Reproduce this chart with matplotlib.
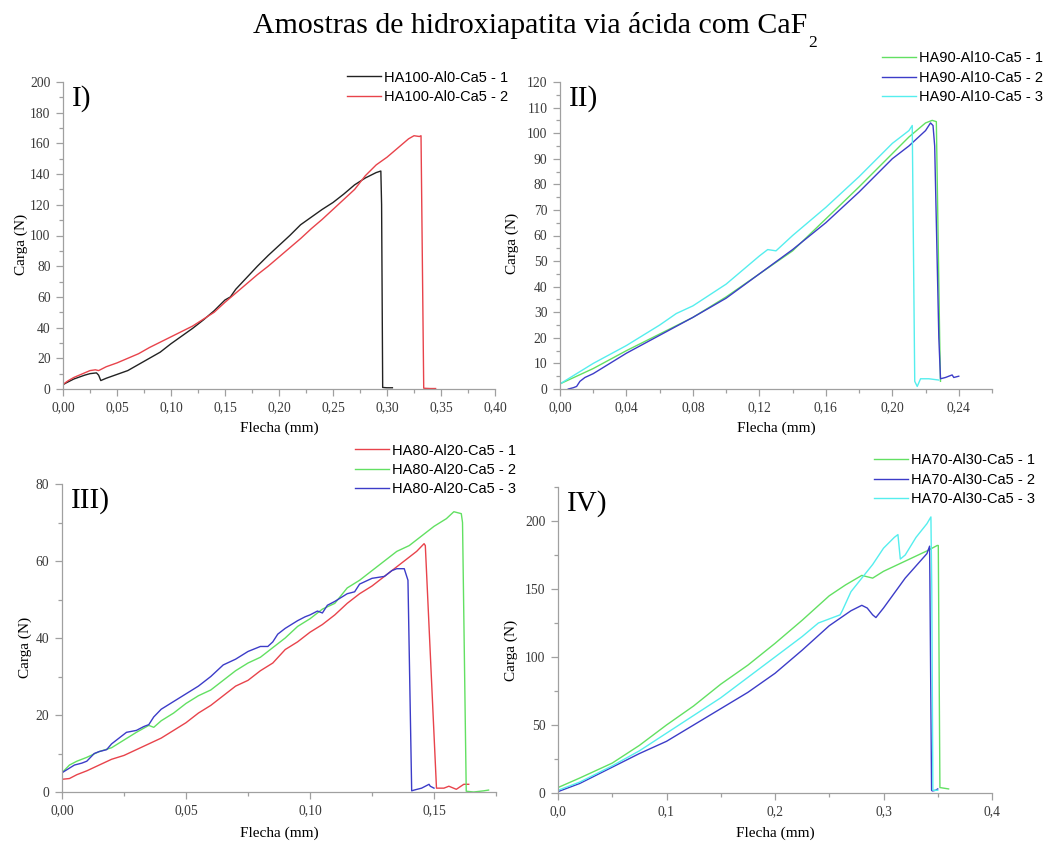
import matplotlib
matplotlib.use("Agg")
import matplotlib.pyplot as plt
from matplotlib.ticker import MultipleLocator, FixedLocator, FixedFormatter

# ---------------- data ----------------
# Panel I
p1_labels = ["HA100-Al0-Ca5 - 1", "HA100-Al0-Ca5 - 2"]
p1_x1 = [0.000, 0.003, 0.010, 0.020, 0.025, 0.031, 0.033, 0.035, 0.040, 0.050, 0.060, 0.070, 0.080,
         0.090, 0.100, 0.110, 0.120, 0.130, 0.140, 0.150, 0.155, 0.160, 0.170, 0.180, 0.190, 0.200,
         0.210, 0.220, 0.230, 0.240, 0.250, 0.260, 0.270, 0.280, 0.290, 0.2943, 0.2950, 0.2960, 0.300, 0.305]
p1_y1 = [2.8, 4.0, 6.5, 9.0, 10.0, 10.5, 9.0, 5.5, 7.0, 9.5, 12.0, 16.0, 20.0,
         24.0, 29.5, 34.5, 39.5, 45.0, 51.0, 58.0, 60.0, 65.0, 72.5, 80.0, 87.0, 93.5,
         100.0, 107.0, 112.0, 117.0, 121.5, 127.0, 133.0, 137.5, 141.0, 142.0, 120.0, 1.0, 0.8, 0.8]
p1_x2 = [0.000, 0.005, 0.010, 0.020, 0.025, 0.030, 0.033, 0.040, 0.050, 0.060, 0.070, 0.080, 0.090,
         0.100, 0.110, 0.120, 0.130, 0.140, 0.150, 0.160, 0.170, 0.180, 0.190, 0.200, 0.210, 0.220,
         0.230, 0.240, 0.250, 0.260, 0.270, 0.280, 0.290, 0.300, 0.310, 0.320, 0.325, 0.330, 0.3315,
         0.3340, 0.340, 0.345]
p1_y2 = [3.0, 5.5, 7.5, 10.5, 12.0, 12.5, 12.0, 14.5, 17.0, 20.0, 23.0, 27.0, 30.5,
         34.0, 37.5, 41.0, 45.5, 50.0, 56.5, 62.5, 68.5, 74.5, 80.0, 86.0, 92.0, 98.0,
         104.5, 110.5, 117.0, 123.5, 130.0, 139.0, 146.0, 151.0, 157.0, 163.0, 165.0, 164.5, 165.0,
         0.5, 0.3, 0.3]

# Panel II
p2_labels = ["HA90-Al10-Ca5 - 1", "HA90-Al10-Ca5 - 2", "HA90-Al10-Ca5 - 3"]
p2_x1 = [0.000, 0.020, 0.040, 0.060, 0.080, 0.100, 0.120, 0.140, 0.160, 0.180, 0.200, 0.210,
         0.220, 0.224, 0.2265, 0.2285, 0.2290]
p2_y1 = [2.0, 8.0, 15.0, 21.5, 28.0, 36.0, 45.0, 54.0, 66.5, 79.0, 92.0, 98.5,
         104.0, 105.0, 104.5, 20.0, 3.0]
p2_x2 = [0.005, 0.008, 0.010, 0.012, 0.015, 0.020, 0.030, 0.040, 0.060, 0.080, 0.100, 0.120, 0.140,
         0.160, 0.180, 0.200, 0.210, 0.220, 0.223, 0.2245, 0.2255, 0.2280, 0.2290, 0.232, 0.236,
         0.237, 0.240]
p2_y2 = [0.0, 0.5, 1.0, 3.0, 4.5, 6.0, 10.0, 14.0, 21.0, 28.0, 35.5, 45.0, 54.5,
         65.0, 77.0, 90.0, 95.0, 101.0, 104.0, 103.0, 95.0, 20.0, 4.0, 4.5, 5.5,
         4.5, 5.0]
p2_x3 = [0.000, 0.020, 0.040, 0.060, 0.070, 0.080, 0.100, 0.110, 0.120, 0.125, 0.130, 0.140, 0.160,
         0.180, 0.200, 0.210, 0.212, 0.2135, 0.2150, 0.2170, 0.222, 0.228]
p2_y3 = [2.0, 10.0, 17.0, 25.0, 29.5, 32.5, 41.0, 46.5, 52.0, 54.5, 54.0, 60.0, 71.0,
         83.0, 96.0, 101.0, 103.0, 3.0, 1.0, 4.0, 4.0, 3.5]

# Panel III
p3_labels = ["HA80-Al20-Ca5 - 1", "HA80-Al20-Ca5 - 2", "HA80-Al20-Ca5 - 3"]
p3_x1 = [0.000, 0.003, 0.006, 0.010, 0.015, 0.020, 0.025, 0.030, 0.035, 0.040, 0.045, 0.050, 0.055,
         0.060, 0.065, 0.070, 0.075, 0.080, 0.085, 0.090, 0.095, 0.100, 0.105, 0.110, 0.115, 0.120,
         0.125, 0.130, 0.135, 0.140, 0.143, 0.146, 0.1465, 0.151, 0.154, 0.156, 0.159, 0.162, 0.164]
p3_y1 = [3.3, 3.5, 4.5, 5.5, 7.0, 8.5, 9.5, 11.0, 12.5, 14.0, 16.0, 18.0, 20.5,
         22.5, 25.0, 27.5, 29.0, 31.5, 33.5, 37.0, 39.0, 41.5, 43.5, 46.0, 49.0, 51.5,
         53.5, 56.0, 58.5, 61.0, 62.5, 64.5, 64.0, 1.0, 1.0, 1.5, 0.7, 2.0, 2.0]
p3_x2 = [0.000, 0.003, 0.006, 0.010, 0.015, 0.020, 0.025, 0.030, 0.035, 0.037, 0.040, 0.045, 0.050,
         0.055, 0.060, 0.065, 0.070, 0.075, 0.080, 0.085, 0.090, 0.095, 0.100, 0.105, 0.110, 0.115,
         0.120, 0.125, 0.130, 0.135, 0.140, 0.145, 0.150, 0.155, 0.158, 0.161, 0.1615, 0.163, 0.166,
         0.170, 0.172]
p3_y2 = [5.0, 7.0, 8.0, 9.0, 10.5, 11.5, 13.5, 15.5, 17.3, 16.8, 18.5, 20.5, 23.0,
         25.0, 26.5, 29.0, 31.5, 33.5, 35.0, 37.5, 40.0, 43.0, 45.0, 47.5, 49.0, 53.0,
         55.0, 57.5, 60.0, 62.5, 64.0, 66.5, 69.0, 71.0, 72.8, 72.3, 70.0, 0.2, 0.0,
         0.3, 0.5]
p3_x3 = [0.000, 0.005, 0.008, 0.010, 0.013, 0.015, 0.018, 0.020, 0.023, 0.026, 0.030, 0.033, 0.035,
         0.037, 0.040, 0.045, 0.050, 0.055, 0.060, 0.065, 0.070, 0.075, 0.080, 0.083, 0.085, 0.087,
         0.090, 0.095, 0.098, 0.100, 0.103, 0.105, 0.107, 0.110, 0.115, 0.118, 0.120, 0.125, 0.130,
         0.133, 0.135, 0.138, 0.1395, 0.1410, 0.142, 0.145, 0.148, 0.1485, 0.150]
p3_y3 = [5.0, 7.0, 7.5, 8.0, 10.0, 10.5, 11.0, 12.5, 14.0, 15.5, 16.0, 17.0, 17.5,
         19.5, 21.5, 23.5, 25.5, 27.5, 30.0, 33.0, 34.5, 36.5, 37.8, 37.8, 39.0, 41.0,
         42.5, 44.5, 45.5, 46.0, 47.0, 46.5, 48.5, 49.5, 51.5, 52.0, 54.0, 55.5, 56.0,
         57.5, 58.0, 58.0, 55.0, 0.3, 0.5, 1.0, 2.0, 1.5, 1.0]

# Panel IV
p4_labels = ["HA70-Al30-Ca5 - 1", "HA70-Al30-Ca5 - 2", "HA70-Al30-Ca5 - 3"]
p4_x1 = [0.000, 0.020, 0.050, 0.075, 0.100, 0.125, 0.150, 0.175, 0.200, 0.225, 0.250, 0.265, 0.280,
         0.290, 0.300, 0.320, 0.340, 0.3495, 0.3505, 0.3520, 0.360]
p4_y1 = [4.0, 11.0, 22.0, 35.0, 50.0, 64.0, 80.0, 94.0, 110.0, 127.0, 145.0, 153.0, 160.0,
         158.0, 163.0, 170.5, 178.0, 182.0, 182.0, 4.0, 3.0]
p4_x2 = [0.000, 0.020, 0.050, 0.075, 0.100, 0.125, 0.150, 0.175, 0.200, 0.225, 0.250, 0.270, 0.280,
         0.285, 0.290, 0.293, 0.300, 0.320, 0.340, 0.3425, 0.3443, 0.345, 0.348, 0.350]
p4_y2 = [1.0, 7.0, 19.0, 29.0, 38.0, 50.0, 62.0, 74.0, 88.0, 105.0, 123.0, 134.0, 138.0,
         136.0, 131.0, 129.0, 136.0, 158.0, 176.0, 181.5, 2.0, 1.5, 2.0, 3.0]
p4_x3 = [0.000, 0.020, 0.050, 0.075, 0.100, 0.125, 0.150, 0.175, 0.200, 0.225, 0.240, 0.260, 0.262,
         0.270, 0.280, 0.290, 0.300, 0.310, 0.3133, 0.3155, 0.320, 0.330, 0.340, 0.3437, 0.3445,
         0.3455, 0.350]
p4_y3 = [2.0, 8.0, 20.0, 31.0, 44.0, 57.0, 70.0, 85.0, 100.0, 115.0, 125.0, 131.0, 134.0,
         148.0, 158.0, 168.0, 180.0, 188.0, 190.0, 172.0, 175.0, 188.0, 198.0, 203.0, 150.0,
         2.0, 2.0]

title_main = "Amostras de hidroxiapatita via ácida com CaF"
title_sub = "2"
panel_tags = ["I)", "II)", "III)", "IV)"]
xlabel_txt = "Flecha (mm)"
ylabel_txt = "Carga (N)"

# ---------------- styling ----------------
W, H = 1054, 841
plt.rcParams["font.family"] = ["Liberation Serif", "DejaVu Serif"]

C_BLACK = "#222222"
C_RED = "#e8434b"
C_GREEN = "#62e062"
C_BLUE = "#3c3cc8"
C_CYAN = "#55eeee"
AX_GREY = "#a0a0a0"

fig = plt.figure(figsize=(W / 100, H / 100), dpi=100)


def px_axes(left, top, right, bottom):
    return fig.add_axes([left / W, 1 - bottom / H, (right - left) / W, (bottom - top) / H])


def fmt(v, nd):
    return f"{v:.{nd}f}".replace(".", ",")


def style_axis(ax, xlim, ylim, xmaj, xmin, ymaj, ymin, xnd):
    ax.set_xlim(*xlim)
    ax.set_ylim(*ylim)
    for s in ("top", "right"):
        ax.spines[s].set_visible(False)
    for s in ("left", "bottom"):
        ax.spines[s].set_color(AX_GREY)
        ax.spines[s].set_linewidth(0.9)
    ax.xaxis.set_major_locator(FixedLocator(xmaj))
    ax.xaxis.set_major_formatter(FixedFormatter([fmt(v, xnd) for v in xmaj]))
    ax.xaxis.set_minor_locator(MultipleLocator(xmin))
    ax.yaxis.set_major_locator(FixedLocator(ymaj))
    ax.yaxis.set_major_formatter(FixedFormatter([f"{int(v)}" for v in ymaj]))
    ax.yaxis.set_minor_locator(MultipleLocator(ymin))
    ax.tick_params(which="both", direction="out", color=AX_GREY, width=0.9,
                   labelcolor="#3a3a3a", labelsize=9.8)
    ax.tick_params(which="major", length=5, pad=4)
    ax.tick_params(which="minor", length=3)
    ax.patch.set_alpha(0)


def add_legend(ax, hx, row1_center):
    ax.legend(loc="upper left", bbox_to_anchor=(hx / W, 1 - (row1_center - 5.5) / H),
              bbox_transform=fig.transFigure, frameon=False,
              prop={"family": "Liberation Sans", "size": 10.5},
              handlelength=2.3, handletextpad=0.25, labelspacing=0.36,
              borderpad=0, borderaxespad=0)


def add_labels(ax, tag, ylab_xy, xlab_xy):
    ax.text(0.02, 0.945, tag, transform=ax.transAxes, fontsize=21, va="center", ha="left")
    ax.set_ylabel(ylabel_txt, fontsize=11, va="center")
    ax.yaxis.set_label_coords(*ylab_xy)
    ax.set_xlabel(xlabel_txt, fontsize=11, va="center")
    ax.xaxis.set_label_coords(*xlab_xy)


lw = 1.0

# Panel I
ax1 = px_axes(63, 82, 495, 389)
ax1.plot(p1_x1, p1_y1, color=C_BLACK, lw=lw, label=p1_labels[0])
ax1.plot(p1_x2, p1_y2, color=C_RED, lw=lw, label=p1_labels[1])
style_axis(ax1, (0, 0.40), (0, 200), [i * 0.05 for i in range(9)], 0.025,
           list(range(0, 201, 20)), 10, 2)
add_labels(ax1, panel_tags[0], (-0.097, 0.47), (0.5, -0.127))
add_legend(ax1, 347, 76)

# Panel II
ax2 = px_axes(560, 82, 992, 389)
ax2.plot(p2_x1, p2_y1, color=C_GREEN, lw=lw, label=p2_labels[0])
ax2.plot(p2_x2, p2_y2, color=C_BLUE, lw=lw, label=p2_labels[1])
ax2.plot(p2_x3, p2_y3, color=C_CYAN, lw=lw, label=p2_labels[2])
style_axis(ax2, (0, 0.26), (0, 120), [i * 0.04 for i in range(7)], 0.02,
           list(range(0, 121, 10)), 5, 2)
add_labels(ax2, panel_tags[1], (-0.11, 0.474), (0.5, -0.127))
add_legend(ax2, 882, 57)

# Panel III
ax3 = px_axes(62, 484, 496, 792)
ax3.plot(p3_x1, p3_y1, color=C_RED, lw=lw, label=p3_labels[0])
ax3.plot(p3_x2, p3_y2, color=C_GREEN, lw=lw, label=p3_labels[1])
ax3.plot(p3_x3, p3_y3, color=C_BLUE, lw=lw, label=p3_labels[2])
style_axis(ax3, (0, 0.175), (0, 80), [0.0, 0.05, 0.10, 0.15], 0.025,
           list(range(0, 81, 20)), 10, 2)
add_labels(ax3, panel_tags[2], (-0.085, 0.468), (0.5, -0.133))
add_legend(ax3, 355, 449)

# Panel IV
ax4 = px_axes(558, 487, 992, 793)
ax4.plot(p4_x1, p4_y1, color=C_GREEN, lw=lw, label=p4_labels[0])
ax4.plot(p4_x2, p4_y2, color=C_BLUE, lw=lw, label=p4_labels[1])
ax4.plot(p4_x3, p4_y3, color=C_CYAN, lw=lw, label=p4_labels[2])
style_axis(ax4, (0, 0.4), (0, 225), [0.0, 0.1, 0.2, 0.3, 0.4], 0.05,
           [0, 50, 100, 150, 200], 25, 1)
add_labels(ax4, panel_tags[3], (-0.107, 0.467), (0.5, -0.131))
add_legend(ax4, 874, 459)

# Title with low subscript
t = fig.text(253 / W, 1 - 33 / H, title_main, fontsize=21.5, ha="left", va="baseline")
fig.canvas.draw()
bb = t.get_window_extent(renderer=fig.canvas.get_renderer())
fig.text((bb.x1 + 1) / W, 1 - 47 / H, title_sub, fontsize=12.5, ha="left", va="baseline")

fig.savefig("out.png", dpi=100)
